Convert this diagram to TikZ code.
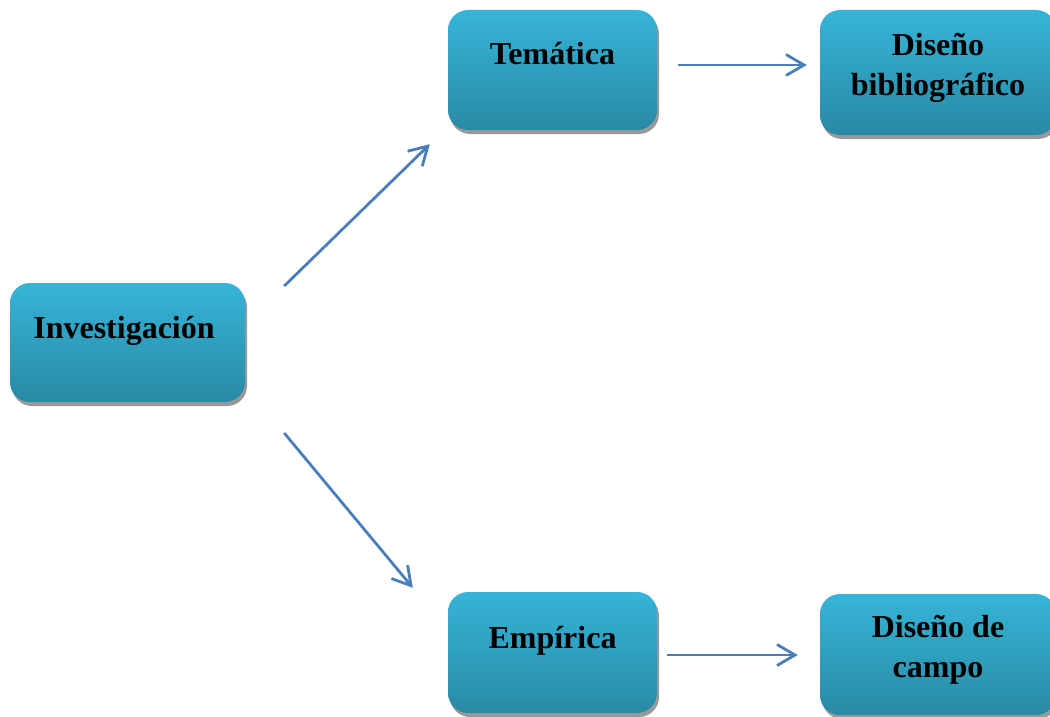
\documentclass[tikz,border=0pt]{standalone}
\usepackage{fontspec}
\setmainfont{Liberation Serif}
\usetikzlibrary{arrows.meta,shadows,calc}
\definecolor{boxtop}{RGB}{54,180,215}
\definecolor{boxbot}{RGB}{40,138,165}
\definecolor{arrblue}{RGB}{74,126,187}
\tikzset{
  box/.style={rounded corners=20pt, top color=boxtop, bottom color=boxbot, draw=none,
    inner sep=0pt, drop shadow={shadow xshift=2pt, shadow yshift=-4pt, fill=black, opacity=0.4}},
  lbl/.style={font=\fontsize{32}{40}\selectfont\bfseries, align=center, inner sep=0pt},
  arr/.style={draw=arrblue, line width=2.8pt, -{Straight Barb[length=18pt,width=21pt,line width=2.8pt]}}
}
\begin{document}
\begin{tikzpicture}[x=1pt,y=-1pt]
\useasboundingbox (0,0) rectangle (1050,717);
\node[box, minimum width=209pt, minimum height=120pt] (tem) at (552.5,70) {};
\node[box, minimum width=236pt, minimum height=125pt] (dbib) at (938,72.5) {};
\node[box, minimum width=235pt, minimum height=119pt] (inv) at (127.5,342.5) {};
\node[box, minimum width=209pt, minimum height=121pt] (emp) at (552.5,652.5) {};
\node[box, minimum width=236pt, minimum height=121pt] (dcam) at (938,654.5) {};
\node[lbl, anchor=base] (temt) at (552.5,65) {Temática};
\node[lbl, anchor=base] (invt) at (124,338) {Investigación};
\node[lbl, anchor=base] (empt) at (552.5,648) {Empírica};
\node[lbl] (dbibt) at (938,68) {Diseño\\bibliográfico};
\node[lbl] (dcamt) at (938,650) {Diseño de\\campo};
\draw[arr] ($(tem.east)+(21,-5)$) -- ($(dbib.west)+(-13,-7.5)$);
\draw[arr] ($(emp.east)+(10,2.5)$) -- ($(dcam.west)+(-22,0.5)$);
\draw[arr] ($(inv.east)+(39,-56.5)$) -- ($(tem.south west)+(-18,14)$);
\draw[arr] ($(inv.east)+(39,90.5)$) -- ($(emp.north west)+(-35,-4)$);
\end{tikzpicture}
\end{document}
